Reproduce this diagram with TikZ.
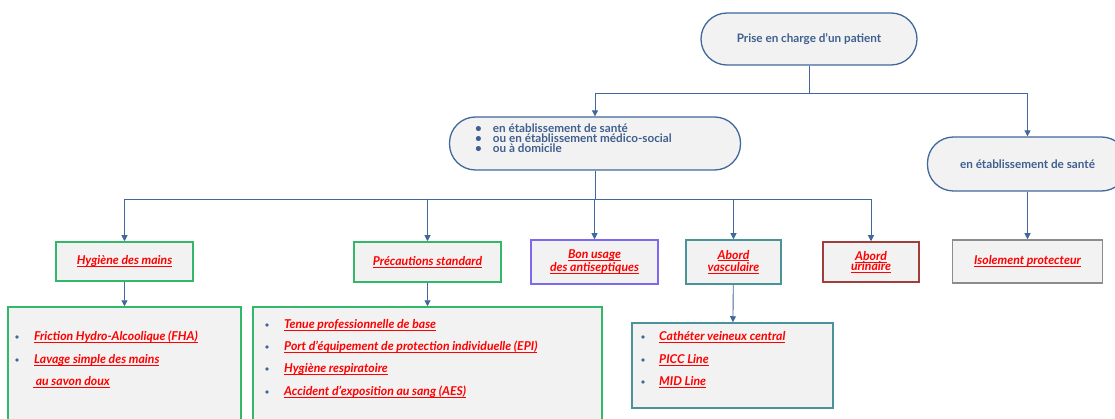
\documentclass[tikz,border=0pt]{standalone}
\usepackage{fontspec}
\setmainfont{Lato}
\usetikzlibrary{positioning,calc,arrows.meta}
\definecolor{linkblue}{HTML}{41679B}
\definecolor{pilltext}{HTML}{3F5F8F}
\definecolor{boxbg}{HTML}{F2F2F2}
\definecolor{gbord}{HTML}{33B86A}
\definecolor{pbord}{HTML}{7B6AF0}
\definecolor{tbord}{HTML}{4A9399}
\definecolor{rbord}{HTML}{9E3F3C}
\definecolor{gybord}{HTML}{8C8C8C}
\definecolor{linkred}{HTML}{FF0000}
\newsavebox{\ulbox}
\newcommand{\uline}[1]{\sbox{\ulbox}{#1}\rlap{\rule[-2.4pt]{\wd\ulbox}{1pt}}\usebox{\ulbox}}

\begin{document}
\begin{tikzpicture}[x=1pt, y=-1pt,
  pill/.style={draw=linkblue, line width=1.3pt, fill=boxbg, rounded corners=26pt,
    text=pilltext, font=\fontsize{11.7}{12}\selectfont\bfseries},
  topic/.style={draw=#1, line width=1.5pt, fill=boxbg, align=center, inner sep=0pt,
    text=linkred, font=\fontsize{12.2}{13}\selectfont\bfseries\itshape},
  detail/.style={draw=#1, line width=1.5pt, fill=boxbg, inner sep=0pt},
  item/.style={anchor=west, inner sep=0pt, text=linkred,
    font=\fontsize{12.2}{13}\selectfont\bfseries\itshape},
  link/.style={draw=linkblue, line width=0.9pt},
  arr/.style={link, -{Triangle[length=6pt,width=6pt]}}]
  \useasboundingbox (0,0) rectangle (1115,419);
  \clip (0,0) rectangle (1115,419);

  % pills (level 0 and 1)
  \node[pill, minimum width=216, minimum height=52] (root) at (809,39) {Prise en charge d'un patient};
  \node[pill, minimum width=291, minimum height=53] (etab) at (595,143.5) {};
  \node[anchor=west, align=left, inner sep=0pt, text=pilltext,
    font=\fontsize{11.7}{10.2}\selectfont\bfseries] (etabtxt) at (475,138.5)
    {\textbullet\hspace{11pt}en établissement de santé\\
     \textbullet\hspace{11pt}ou en établissement médico-social\\
     \textbullet\hspace{11pt}ou à domicile};
  \node[pill, minimum width=200, minimum height=54] (sante) at (1027.5,164) {en établissement de santé};

  % topic boxes (level 2)
  \node[topic=gbord, minimum width=137, minimum height=39] (hyg) at (124.5,261.5) {\uline{Hygiène des mains}};
  \node[topic=gbord, minimum width=147, minimum height=40] (prec) at (427.5,262) {\uline{Précautions standard}};
  \node[topic=pbord, minimum width=127, minimum height=44] (bon) at (594.5,262) {\uline{Bon usage}\\[-0.5pt]\uline{des antiseptiques}};
  \node[topic=tbord, minimum width=95, minimum height=44] (vasc) at (733.5,262) {\uline{Abord}\\[-0.5pt]\uline{vasculaire}};
  \node[topic=rbord, minimum width=96, minimum height=40] (uri) at (871,262) {\uline{Abord}\\[-3pt]\uline{urinaire}};
  \node[topic=gybord, minimum width=150, minimum height=43] (iso) at (1027.5,261.5) {\uline{Isolement protecteur}};

  % detail boxes (level 3)
  \node[detail=gbord, minimum width=233, minimum height=153] (hdet) at (124.5,383.5) {};
  \node[detail=gbord, minimum width=349, minimum height=153] (pdet) at (427.5,383.5) {};
  \node[detail=tbord, minimum width=201, minimum height=85] (vdet) at (732.5,365.5) {};

  \foreach \y/\t in {337/Friction Hydro-Alcoolique (FHA), 360/Lavage simple des mains} {
    \fill[linkblue] (17,\y) circle (1.8);
    \node[item] (hdet-\y) at (34,\y) {\uline{\t}};
  }
  \node[item] (hdet-382) at (33,382) {\uline{\ au savon doux}};

  \foreach \y/\t in {325/Tenue professionnelle de base, 347/Port d'équipement de protection individuelle (EPI),
                     369/Hygiène respiratoire, 392/Accident d'exposition au sang (AES)} {
    \fill[linkblue] (267,\y) circle (1.8);
    \node[item] (pdet-\y) at (284,\y) {\uline{\t}};
  }

  \foreach \y/\t in {337/Cathéter veineux central, 360/PICC Line, 382/MID Line} {
    \fill[linkblue] (643,\y) circle (1.8);
    \node[item] (vdet-\y) at (659,\y) {\uline{\t}};
  }

  % connectors
  \coordinate (bus1) at (809,93);
  \coordinate (bus2) at (595,199);
  \draw[link] (root) -- (bus1);
  \draw[arr] (bus1) -| (etab);
  \draw[arr] (bus1) -| (sante);
  \draw[link] (etab) -- (bus2);
  \foreach \n in {hyg,prec,bon,vasc,uri}
    \draw[arr] (bus2) -| (\n);
  \draw[arr] (sante) -- (iso);
  \draw[arr] (hyg) -- (hdet);
  \draw[arr] (prec) -- (pdet);
  \draw[arr] (vasc) -- (vdet);
\end{tikzpicture}
\end{document}
